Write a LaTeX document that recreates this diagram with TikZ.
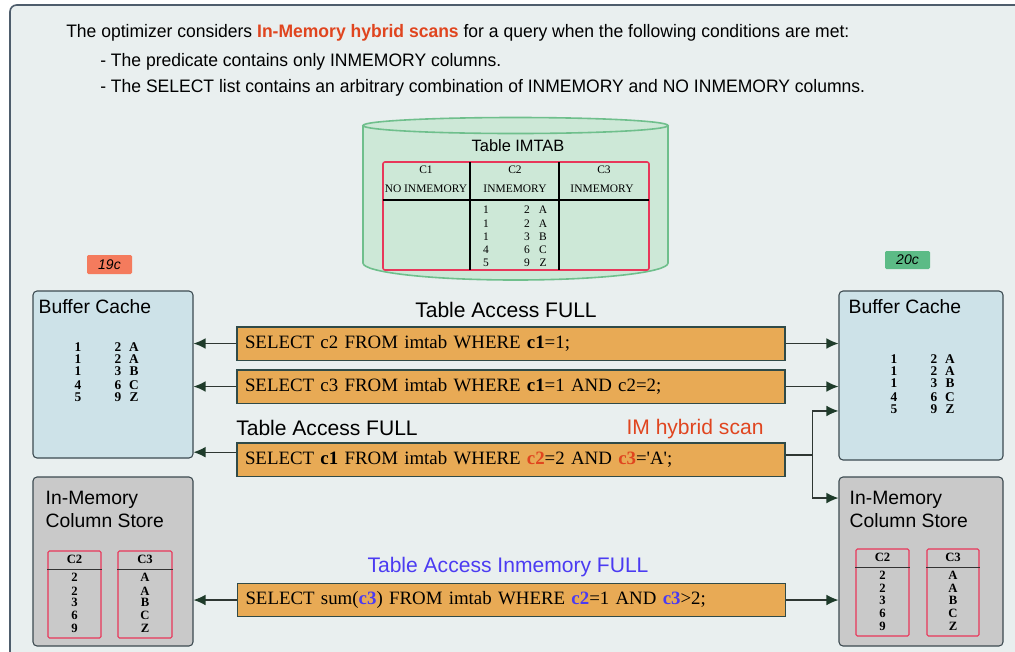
\documentclass[tikz,border=0pt]{standalone}
\usepackage{fontspec}
\setmainfont{Liberation Serif}
\setsansfont{Liberation Sans}
\newfontfamily\headfont{Liberation Sans}[FakeStretch=0.97]
\usetikzlibrary{arrows.meta,positioning,fit}
\definecolor{bgfill}{HTML}{E9EFEF}
\definecolor{frameline}{HTML}{4E5D6C}
\definecolor{cylfill}{HTML}{CDE8D7}
\definecolor{cylline}{HTML}{6FBF8C}
\definecolor{tblred}{HTML}{E8375A}
\definecolor{cachefill}{HTML}{CDE2E8}
\definecolor{storefill}{HTML}{C9C9C9}
\definecolor{boxline}{HTML}{3C4A50}
\definecolor{sqlfill}{HTML}{E8AA55}
\definecolor{sqlline}{HTML}{2F4A48}
\definecolor{arrowc}{HTML}{1E3B2A}
\definecolor{linec}{HTML}{2E3632}
\definecolor{hybred}{HTML}{E0451F}
\definecolor{imblue}{HTML}{4B3BF2}
\definecolor{badgered}{HTML}{F47B5D}
\definecolor{badgegreen}{HTML}{5CBB86}

\begin{document}
\begin{tikzpicture}[x=0.75pt, y=-0.75pt,
  sz/.style 2 args={minimum width=#1*0.75pt, minimum height=#2*0.75pt},
  head/.style={font=\headfont\fontsize{13.55}{15}\selectfont, inner sep=0pt, anchor=west},
  ttl/.style={font=\sffamily\fontsize{14.5}{17.25}\selectfont, inner sep=0pt, align=left, anchor=west},
  lbl/.style={font=\sffamily\fontsize{15.8}{18}\selectfont, inner sep=0pt},
  badge/.style={font=\sffamily\itshape\fontsize{10.5}{12}\selectfont, rounded corners=1pt, inner sep=0pt},
  cache/.style={draw=boxline, fill=cachefill, rounded corners=3pt, line width=0.8pt},
  store/.style={cache, fill=storefill},
  sql/.style={draw=sqlline, fill=sqlfill, line width=1pt, inner xsep=6pt, inner ysep=0pt, text width=399pt, minimum height=25pt, align=left, font=\fontsize{14.15}{17}\selectfont},
  tdat/.style={font=\fontsize{8.6}{10}\selectfont, inner sep=0pt},
  bdat/.style={font=\bfseries\fontsize{10}{11}\selectfont, inner sep=0pt},
  mdat/.style={font=\bfseries\fontsize{9.5}{11}\selectfont, inner sep=0pt},
  mcol/.style={draw=tblred, line width=0.8pt, rounded corners=1pt},
  rule/.style={draw=black, line width=1.1pt},
  arr/.style={draw=linec, line width=0.9pt, -{Latex[length=9pt,width=8pt,color=arrowc]}},
  lin/.style={draw=linec, line width=0.9pt}]
\useasboundingbox (0,0) rectangle (1015,651);
\clip (0,0) rectangle (1015,651);
\fill[white] (0,0) rectangle (1015,651);
\draw[frameline, fill=bgfill, line width=1.2pt, rounded corners=5pt] (10,5) rectangle (1040,680);

% header
\node[head] (h1) at (66,33) {The optimizer considers \textcolor{hybred}{\bfseries In-Memory hybrid scans} for a query when the following conditions are met:};
\node[head] (h2) at (100,62) {- The predicate contains only INMEMORY columns.};
\node[head] (h3) at (100,88) {- The SELECT list contains an arbitrary combination of INMEMORY and NO INMEMORY columns.};

% table IMTAB as a cylinder
\fill[cylfill] (363,125.5) -- (363,263) arc[start angle=180, end angle=0, x radius=152.5, y radius=17] -- (668,125.5) arc[start angle=0, end angle=-180, x radius=152.5, y radius=8] -- cycle;
\draw[cylline, line width=1.2pt] (515.5,125.5) ellipse[x radius=152.5, y radius=8];
\draw[cylline, line width=1.2pt] (363,125.5) -- (363,263) arc[start angle=180, end angle=0, x radius=152.5, y radius=17] -- (668,125.5);
\node[font=\sffamily\fontsize{12.3}{14}\selectfont, inner sep=0pt] (imtab) at (518,146) {Table IMTAB};
\node[draw=tblred, line width=1.2pt, rounded corners=1.5pt, sz={266}{108}] (tbl) at (516,216) {};
\draw[rule] (383,200) -- (649,200);
\draw[rule] (470,162) -- (470,270);
\draw[rule] (559,162) -- (559,270);
\node[tdat] (hc1) at (426,170) {C1};  \node[tdat] (hm1) at (426,189) {NO INMEMORY};
\node[tdat] (hc2) at (515,170) {C2};  \node[tdat] (hm2) at (515,189) {INMEMORY};
\node[tdat] (hc3) at (604,170) {C3};  \node[tdat] (hm3) at (602,189) {INMEMORY};
\foreach \y/\a/\b/\c in {210/1/2/A,224/1/2/A,237/1/3/B,250/4/6/C,263/5/9/Z}{
  \node[tdat] (ta\y) at (486,\y) {\a}; \node[tdat] (tb\y) at (527,\y) {\b}; \node[tdat] (tc\y) at (543,\y) {\c};}

% versions
\node[badge, fill=badgered, sz={45}{19}] (v19) at (109.5,264.5) {19c};
\node[badge, fill=badgegreen, sz={45}{18}] (v20) at (907.5,260) {20c};

% caches and column stores
\node[cache, sz={160}{167}] (bcL) at (113,374.5) {};
\node[cache, sz={164}{169}] (bcR) at (921,375.5) {};
\node[store, sz={160}{169}] (imL) at (113,561.5) {};
\node[store, sz={164}{169}] (imR) at (921,561.5) {};
\node[ttl] (bcLt) at ([xshift=4.5pt,yshift=-12pt]bcL.north west) {Buffer Cache};
\node[ttl] (bcRt) at ([xshift=7.5pt,yshift=-12pt]bcR.north west) {Buffer Cache};
\node[ttl] (imLt) at ([xshift=9.75pt,yshift=-25pt]imL.north west) {In-Memory\\Column Store};
\node[ttl] (imRt) at ([xshift=8.25pt,yshift=-25pt]imR.north west) {In-Memory\\Column Store};
\foreach \s/\x/\d in {L/78/0,R/894/12}
  \foreach \y/\a/\b/\c in {347/1/2/A,359/1/2/A,371/1/3/B,385/4/6/C,397/5/9/Z}{
    \node[bdat] (b\s a\y) at (\x,\y+\d) {\a}; \node[bdat] (b\s b\y) at (\x+40,\y+\d) {\b}; \node[bdat] (b\s c\y) at (\x+56,\y+\d) {\c};}
\node[mcol, sz={53}{87}] (cL2) at (74.5,594.5) {};
\node[mcol, sz={54}{87}] (cL3) at (145,594.5) {};
\node[mcol, sz={53}{87}] (cR2) at (882.5,592.5) {};
\node[mcol, sz={52}{87}] (cR3) at (953,592.5) {};
\foreach \c/\h/\vals in {cL2/C2/{2/27,2/41,3/52,6/65,9/78}, cL3/C3/{A/27,A/41,B/52,C/65,Z/78}, cR2/C2/{2/27,2/40,3/52,6/65,9/78}, cR3/C3/{A/27,A/40,B/52,C/65,Z/78}}{
  \draw[draw=black!80, line width=1pt] ([yshift=-14.25pt]\c.north west) -- ([yshift=-14.25pt]\c.north east);
  \node[mdat] (\c h) at ([yshift=-7pt]\c.north) {\h};
  \foreach \v/\o in \vals {\node[mdat] (\c\v\o) at ([yshift=-\o*0.75pt]\c.north) {\v};}}

% queries
\node[lbl] (acc1) at (506,310) {Table Access FULL};
\node[sql] (q1) at (511,343.5) {SELECT c2 FROM imtab WHERE \textbf{c1}=1;};
\node[sql] (q2) at (511,386.5) {SELECT c3 FROM imtab WHERE \textbf{c1}=1 AND c2=2;};
\node[lbl] (acc2) at (327,428) {Table Access FULL};
\node[lbl, text=hybred] (hyb) at (695,429) {IM hybrid scan};
\node[sql] (q3) at (511,459.5) {SELECT \textbf{c1} FROM imtab WHERE \textcolor{hybred}{\textbf{c2}}=2 AND \textcolor{hybred}{\textbf{c3}}=\textquotesingle A\textquotesingle;};
\node[lbl, text=imblue] (acc3) at (508,567) {Table Access Inmemory FULL};
\node[sql] (q4) at (511.5,600) {SELECT sum(\textcolor{imblue}{\textbf{c3}}) FROM imtab WHERE \textcolor{imblue}{\textbf{c2}}=1 AND \textcolor{imblue}{\textbf{c3}}>2;};

% connectors
\draw[arr] (q1.west) -- (q1.west -| bcL.east);
\draw[arr] (q2.west) -- (q2.west -| bcL.east);
\draw[arr] ([yshift=5.5pt]q3.west) -- ([yshift=5.5pt]q3.west -| bcL.east);
\draw[arr] (q4.west) -- (q4.west -| imL.east);
\draw[arr] (q1.east) -- (q1.east -| bcR.west);
\draw[arr] (q2.east) -- (q2.east -| bcR.west);
\draw[lin] ([yshift=3.4pt]q3.east) -- ++(20.25pt,0) coordinate (jn);
\draw[arr] (jn) |- ([yshift=-26.6pt]bcR.west);
\draw[arr] (jn) |- ([yshift=47.6pt]imR.west);
\draw[arr] (q4.east) -- (q4.east -| imR.west);
\end{tikzpicture}
\end{document}
